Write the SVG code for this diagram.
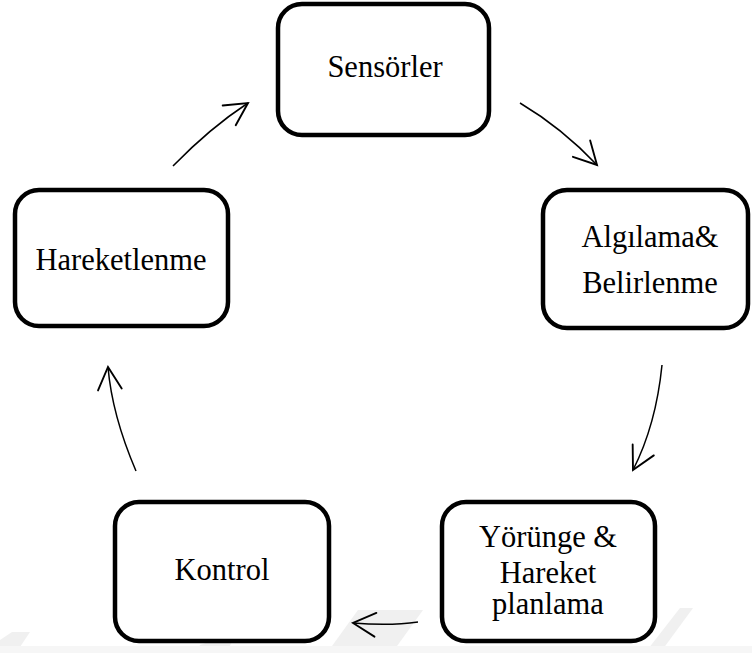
<svg xmlns="http://www.w3.org/2000/svg" width="752" height="653" viewBox="0 0 752 653">
  <style>
    .box { fill: #ffffff; stroke: #000000; stroke-width: 4.5; }
    .lbl { font-family: "Liberation Serif", "Times New Roman", serif; font-size: 30.5px; fill: #000000; text-anchor: middle; }
    .conn { fill: none; stroke: #000000; stroke-width: 1.5; }
    .wm { fill: #f0f0f0; stroke: none; }
  </style>
  <defs>
    <marker id="arr" markerUnits="userSpaceOnUse" markerWidth="30" markerHeight="30" viewBox="-20 -12 22 24" refX="0" refY="0" orient="auto" overflow="visible">
      <path d="M -18 -9.5 L 0 0 L -18 9.5" fill="none" stroke="#000000" stroke-width="1.5" stroke-linecap="round" stroke-linejoin="miter"/>
    </marker>
  </defs>
  <rect x="0" y="0" width="752" height="653" fill="#ffffff"/>
  <g id="watermark">
    <polygon class="wm" points="0,640 12,632 30,632 16,653 0,653"/>
    <polygon class="wm" points="200,645 215,640 233,640 226,653 196,653"/>
    <polygon class="wm" points="358,610 423,610 392,653 327,653"/>
    <polygon class="wm" points="680,608 693,608 660,653 645,653"/>
    <polygon points="0,646 752,646 752,653 0,653" fill="#f6f6f6"/>
  </g>
  <g id="connectors">
    <path class="conn" d="M 520 103 Q 562 128 597 165" marker-end="url(#arr)"/>
    <path class="conn" d="M 662 365 Q 656 425 633 470" marker-end="url(#arr)"/>
    <path class="conn" d="M 418 622 Q 390 626 353 623" marker-end="url(#arr)"/>
    <path class="conn" d="M 136 471 Q 112 415 108 367" marker-end="url(#arr)"/>
    <path class="conn" d="M 173 166 Q 210 128 248 103" marker-end="url(#arr)"/>
  </g>
  <g id="sensorler">
    <rect class="box" x="278" y="4" width="211" height="131" rx="24"/>
    <text class="lbl" x="385" y="77">Sensörler</text>
  </g>
  <g id="algilama">
    <rect class="box" x="543" y="190" width="205" height="138" rx="24"/>
    <text class="lbl" x="650" y="247">Algılama&amp;</text>
    <text class="lbl" x="650" y="293">Belirlenme</text>
  </g>
  <g id="yorunge">
    <rect class="box" x="442" y="502" width="213" height="139" rx="24"/>
    <text class="lbl" x="548" y="547">Yörünge &amp;</text>
    <text class="lbl" x="548" y="583">Hareket</text>
    <text class="lbl" x="548" y="614">planlama</text>
  </g>
  <g id="kontrol">
    <rect class="box" x="115" y="502" width="214" height="139" rx="24"/>
    <text class="lbl" x="222" y="580">Kontrol</text>
  </g>
  <g id="hareketlenme">
    <rect class="box" x="15" y="190" width="213" height="136" rx="24"/>
    <text class="lbl" x="121" y="270">Hareketlenme</text>
  </g>
</svg>
